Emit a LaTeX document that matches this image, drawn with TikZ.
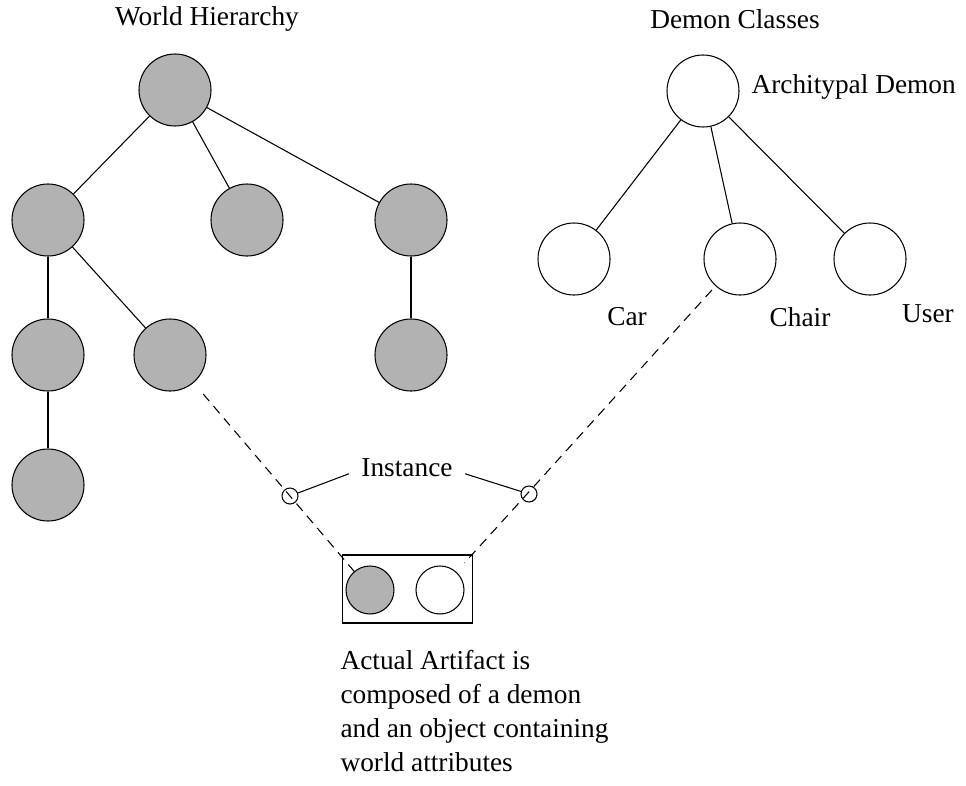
\documentclass[tikz,border=0pt]{standalone}
\usepackage{fontspec}
\setmainfont{Liberation Serif}
\usepackage{tikz}
\usetikzlibrary{
  arrows,
  shapes.misc,
  positioning,
  backgrounds
}
\definecolor{objgray}{gray}{0.7}

\begin{document}
\begin{tikzpicture}[
      x=0.75pt,y=-0.75pt,
      object/.style={
         circle,
         minimum size=54pt,
         inner sep=0pt,
         draw=black,
         fill=objgray
      },
      demon/.style={
         circle,
         minimum size=54pt,
         inner sep=0pt,
         draw=black,
         fill=white
      },
      small object/.style={object,minimum size=36pt},
      small demon/.style={demon,minimum size=36pt},
      instance/.style={circle,draw=black,inner sep=0pt,minimum size=12pt},
      label/.style={font=\fontsize{20.5}{25.5}\selectfont,inner sep=0pt},
      line width=0.8pt
    ]
    \useasboundingbox (0,0) rectangle (966,785);
    % world hierarchy
    \node (w1)  [object] at (175,90)  {};
    \node (w21) [object] at (48,220)  {};
    \node (w22) [object] at (247,220) {};
    \node (w23) [object] at (411,220) {};
    \node (w31) [object] at (48,355)  {};
    \node (w32) [object] at (170,355) {};
    \node (w33) [object] at (411,355) {};
    \node (w41) [object] at (48,485)  {};
    \node (wtitle) [label] at (207,19) {World Hierarchy};
    % demon classes
    \node (d1)  [demon] at (703,91)  {};
    \node (d21) [demon] at (574,259) {};
    \node (d22) [demon] at (740,259) {};
    \node (d23) [demon] at (870,259) {};
    \node (dtitle) [label] at (735,19) {Demon Classes};
    \node (d1lbl)  [label,anchor=west] at (751,87) {Architypal Demon};
    \node (d21lbl) [label] at (627,317) {Car};
    \node (d22lbl) [label] at (800,317) {Chair};
    \node (d23lbl) [label] at (928,314) {User};
    % actual artifact
    \node (artifact) [draw=black,minimum width=98pt,minimum height=51pt,inner sep=0pt] at (407.5,589) {};
    \node (agray)  [small object] at (370,590) {};
    \node (awhite) [small demon]  at (440,590) {};
    \node (inst1) [instance] at (290,496) {};
    \node (inst2) [instance] at (529,494) {};
    \node (instlbl) [label,inner xsep=9pt] at (407,468) {Instance};
    \node (note) [label,anchor=north west,align=left] at (340,650)
       {Actual Artifact is\\composed of a demon\\and an object containing\\world attributes};

    \draw (w1) -- (w21);
    \draw (w1) -- (w22);
    \draw (w1) -- (w23);
    \draw (w21) -- (w31);
    \draw (w21) -- (w32);
    \draw (w23) -- (w33);
    \draw (w31) -- (w41);

    \draw (d1) -- (d21);
    \draw (d1) -- (d22);
    \draw (d1) -- (d23);

    \draw[dashed,dash pattern=on 7pt off 5pt,shorten <=11pt,shorten >=-1pt] (w32) -- (agray);
    \draw[dashed,dash pattern=on 7pt off 5pt,shorten <=4pt,shorten >=9pt] (d22) -- (awhite);
    \draw (inst1) -- (instlbl.mid west);
    \draw (inst2) -- (instlbl.mid east);
\end{tikzpicture}
\end{document}
